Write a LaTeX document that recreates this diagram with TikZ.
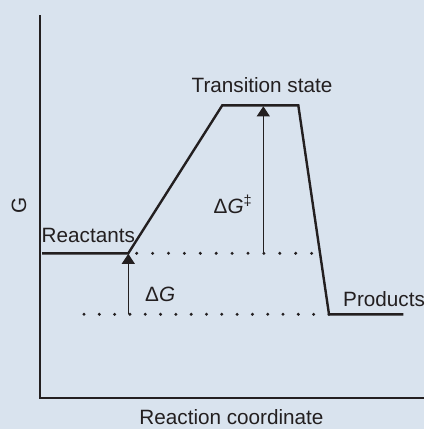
\documentclass[tikz,border=0pt]{standalone}
\usepackage{fontspec}
\setmainfont{Liberation Sans}
\usetikzlibrary{arrows.meta}
\definecolor{bg}{RGB}{217,227,238}
\definecolor{ink}{RGB}{35,31,32}
\begin{document}
\begin{tikzpicture}[x=1pt,y=-1pt,
  font=\fontsize{20.7}{24}\selectfont,
  curve/.style={draw=ink, line width=2.4pt, line join=miter},
  axisline/.style={draw=ink, line width=2.4pt},
  dotrow/.style={draw=ink, line width=3.3pt, line cap=round, dash pattern=on 0pt off #1},
  gaparrow/.style={draw=ink, line width=1.2pt, -{Triangle[length=10pt,width=13pt]}},
  lbl/.style={text=ink, inner sep=0pt}]
\fill[bg] (0,0) rectangle (424,429);
\useasboundingbox (0,0) rectangle (424,429);
% axes
\coordinate (ytop) at (40,15);
\coordinate (origin) at (40,398);
\coordinate (xend) at (424,398);
\draw[axisline] (ytop) -- (origin) -- (xend);
% energy profile
\coordinate (r0) at (42,253.3);
\coordinate (r1) at (128.3,253.3);
\coordinate (t0) at (222.3,105.3);
\coordinate (t1) at (298.3,105.3);
\coordinate (p0) at (329,314.3);
\coordinate (p1) at (403.3,314.3);
\draw[curve] (r0) -- (r1) -- (t0) -- (t1) -- (p0) -- (p1);
% dotted reference lines
\coordinate (ua) at (136.7,253.3);
\coordinate (ub) at (312,253.3);
\coordinate (la) at (84,314.3);
\coordinate (lb) at (329,314.3);
\draw[dotrow=15.9pt] (ua) -- (ub);
\draw[dotrow=15.31pt] (la) -- (lb);
% arrows
\coordinate (dgbase) at (128.3,314.3);
\coordinate (dgtip) at (128.3,253.8);
\coordinate (tsbase) at (263.3,253.3);
\coordinate (tstip) at (263.3,106.3);
\draw[gaparrow] (dgbase) -- (dgtip);
\draw[gaparrow] (tsbase) -- (tstip);
% labels
\node[lbl, anchor=base] (ts) at (262,92.7) {Transition state};
\node[lbl, anchor=base west] (re) at (41.5,242) {Reactants};
\node[lbl, anchor=base west] (pr) at (343,306.7) {Products};
\node[lbl, anchor=base west] (dg) at (145,301.7) {Δ\textit{G}};
\node[lbl, anchor=base west] (dgts) at (213.5,213) {Δ\textit{G}\textsuperscript{‡}};
\node[lbl, rotate=90] (gl) at (19,205.7) {G};
\node[lbl, anchor=base] (rc) at (231.5,424.5) {Reaction coordinate};
\end{tikzpicture}
\end{document}
